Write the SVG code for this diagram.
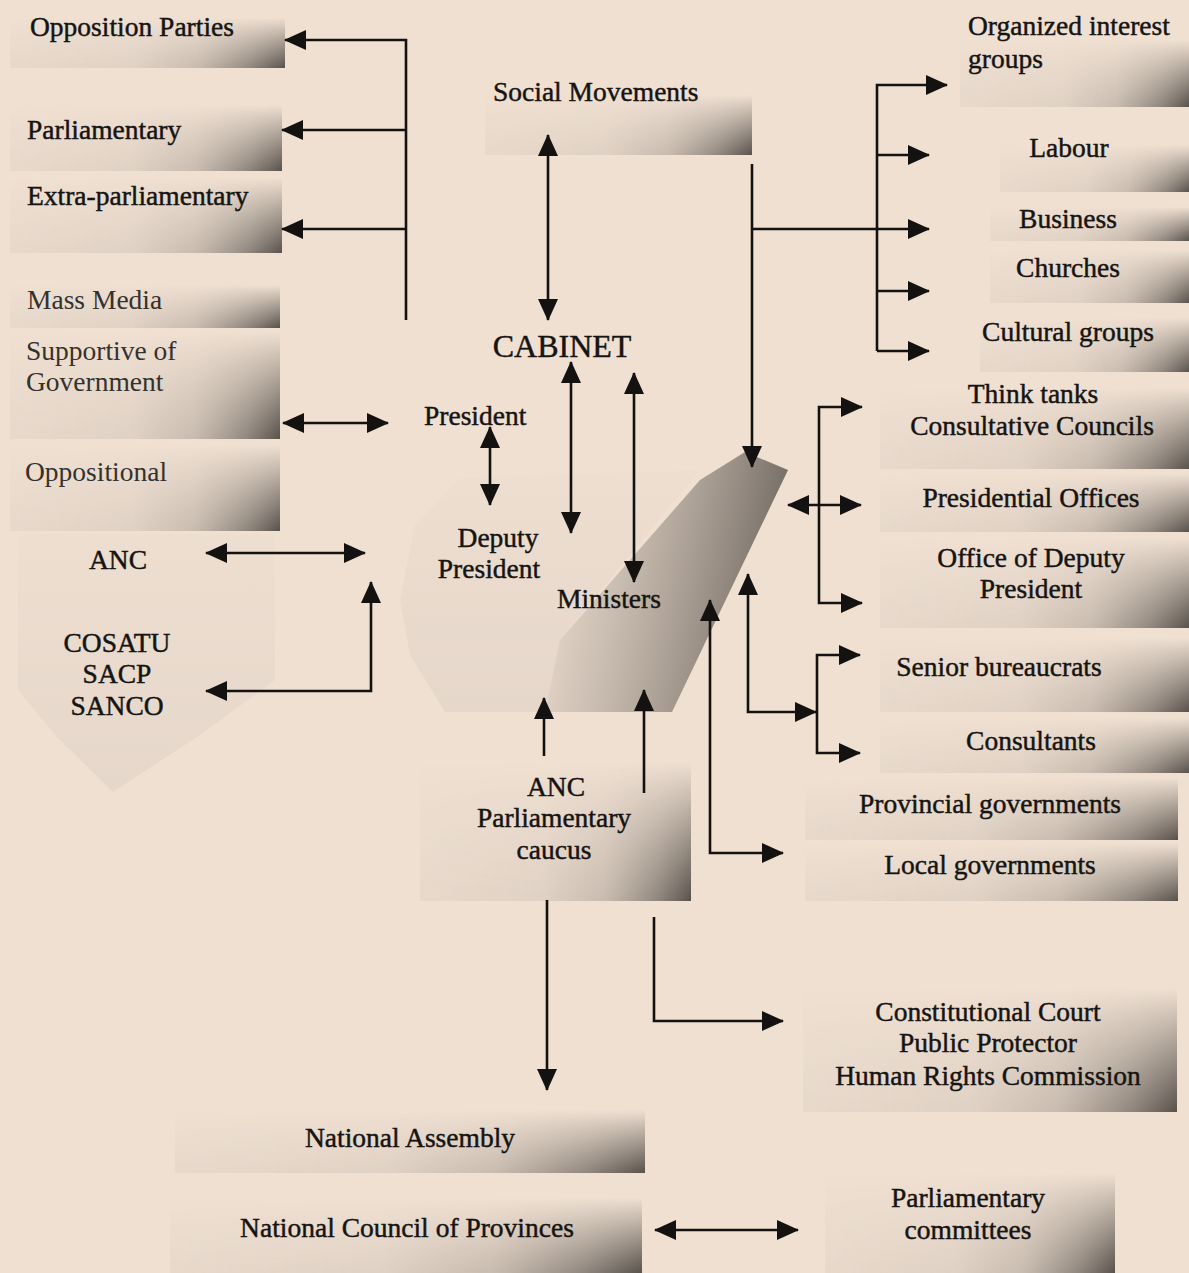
<svg xmlns="http://www.w3.org/2000/svg" width="1189" height="1273" viewBox="0 0 1189 1273">
<style>
.t{font-family:"Liberation Serif","Times New Roman",serif;font-size:27.5px;fill:#161412;stroke:#161412;stroke-width:0.45}
.c{text-anchor:middle}
.lt{fill:#35312d;stroke:none}
.big{font-size:32px}
.sh{fill:url(#hg)}
.ln{fill:none;stroke:#141210;stroke-width:2.6}
.a2{marker-end:url(#ah)}
.a3{marker-start:url(#ah);marker-end:url(#ah)}
</style>
<defs>
<linearGradient id="hg" x1="0" y1="0" x2="1" y2="0">
<stop offset="0" stop-color="#6e665f" stop-opacity="0.06"/>
<stop offset="0.45" stop-color="#6e665f" stop-opacity="0.12"/>
<stop offset="0.68" stop-color="#6e665f" stop-opacity="0.3"/>
<stop offset="0.88" stop-color="#4d4843" stop-opacity="0.6"/>
<stop offset="1" stop-color="#3d3833" stop-opacity="0.85"/>
</linearGradient>
<linearGradient id="vg" x1="0" y1="0" x2="0" y2="1">
<stop offset="0" stop-color="#fff" stop-opacity="0"/>
<stop offset="0.4" stop-color="#fff" stop-opacity="0.4"/>
<stop offset="1" stop-color="#fff" stop-opacity="1"/>
</linearGradient>
<mask id="vm" maskContentUnits="objectBoundingBox"><rect width="1" height="1" fill="url(#vg)"/></mask>
<linearGradient id="faint" x1="0" y1="0" x2="0" y2="1">
<stop offset="0" stop-color="#8c847c" stop-opacity="0.02"/>
<stop offset="1" stop-color="#8c847c" stop-opacity="0.1"/>
</linearGradient>
<mask id="fm" maskContentUnits="objectBoundingBox"><rect width="1" height="1" fill="url(#vg)"/></mask>
<linearGradient id="dark" gradientUnits="userSpaceOnUse" x1="560" y1="600" x2="770" y2="640">
<stop offset="0" stop-color="#6e665f" stop-opacity="0.12"/>
<stop offset="0.5" stop-color="#5a534d" stop-opacity="0.42"/>
<stop offset="1" stop-color="#3d3833" stop-opacity="0.72"/>
</linearGradient>
<marker id="ah" viewBox="0 0 22 20" refX="21" refY="10" markerWidth="22" markerHeight="20" markerUnits="userSpaceOnUse" orient="auto-start-reverse">
<path d="M0,0 L22,10 L0,20 z" fill="#141210"/>
</marker>
</defs>
<rect width="1189" height="1273" fill="#efe0d2"/>

<g id="n-opposition-parties"><rect class="sh" mask="url(#vm)" x="10" y="18" width="275" height="50"/><text class="t" x="30" y="36">Opposition Parties</text></g>
<g id="n-parliamentary"><rect class="sh" mask="url(#vm)" x="10" y="105" width="272" height="66"/><text class="t" x="27" y="139">Parliamentary</text></g>
<g id="n-extra-parliamentary"><rect class="sh" mask="url(#vm)" x="10" y="178" width="272" height="75"/><text class="t" x="27" y="205">Extra-parliamentary</text></g>
<g id="n-mass-media"><rect class="sh" mask="url(#vm)" x="10" y="285" width="270" height="43"/><text class="t lt" x="27" y="309">Mass Media</text></g>
<g id="n-supportive"><rect class="sh" mask="url(#vm)" x="10" y="332" width="270" height="107"/><text class="t lt" x="26" y="360">Supportive of</text><text class="t lt" x="26" y="391">Government</text></g>
<g id="n-oppositional"><rect class="sh" mask="url(#vm)" x="10" y="445" width="270" height="86"/><text class="t lt" x="25" y="481">Oppositional</text></g>
<g id="n-anc-allies"><path d="M18,534 H275 V680 L200,735 L113,792 L55,735 L18,690 z" fill="url(#faint)"/><text class="t c" x="118" y="569">ANC</text><text class="t c" x="117" y="652">COSATU</text><text class="t c" x="117" y="683">SACP</text><text class="t c" x="117" y="715">SANCO</text></g>

<g id="n-social-movements"><rect class="sh" mask="url(#vm)" x="485" y="95" width="267" height="60"/><text class="t" x="493" y="101">Social Movements</text></g>

<g id="n-cabinet">
<path d="M400,600 L415,525 L460,478 L700,470 L560,640 L545,712 L445,712 L410,655 z" fill="url(#faint)"/>
<path d="M745,452 L788,470 L672,712 L545,712 L560,640 L700,480 z" fill="url(#dark)"/>
<text class="t c big" x="562" y="357">CABINET</text>
<text class="t" x="424" y="425">President</text>
<text class="t c" x="498" y="547">Deputy</text><text class="t c" x="489" y="578">President</text>
<text class="t" x="557" y="608">Ministers</text></g>

<g id="n-anc-caucus"><rect class="sh" mask="url(#vm)" x="420" y="762" width="271" height="139"/><text class="t c" x="556" y="796">ANC</text><text class="t c" x="554" y="827">Parliamentary</text><text class="t c" x="554" y="859">caucus</text></g>

<g id="n-organized"><rect class="sh" mask="url(#vm)" x="960" y="40" width="229" height="67"/><text class="t" x="968" y="35">Organized interest</text><text class="t" x="968" y="68">groups</text></g>
<g id="n-labour"><rect class="sh" mask="url(#vm)" x="1000" y="145" width="189" height="47"/><text class="t c" x="1069" y="157">Labour</text></g>
<g id="n-business"><rect class="sh" mask="url(#vm)" x="990" y="207" width="199" height="34"/><text class="t c" x="1068" y="228">Business</text></g>
<g id="n-churches"><rect class="sh" mask="url(#vm)" x="990" y="250" width="199" height="53"/><text class="t c" x="1068" y="277">Churches</text></g>
<g id="n-cultural"><rect class="sh" mask="url(#vm)" x="980" y="318" width="209" height="54"/><text class="t c" x="1068" y="341">Cultural groups</text></g>
<g id="n-think-tanks"><rect class="sh" mask="url(#vm)" x="880" y="388" width="309" height="81"/><text class="t c" x="1033" y="403">Think tanks</text><text class="t c" x="1032" y="435">Consultative Councils</text></g>
<g id="n-presidential-offices"><rect class="sh" mask="url(#vm)" x="880" y="474" width="309" height="58"/><text class="t c" x="1031" y="507">Presidential Offices</text></g>
<g id="n-office-deputy"><rect class="sh" mask="url(#vm)" x="880" y="538" width="309" height="90"/><text class="t c" x="1031" y="567">Office of Deputy</text><text class="t c" x="1031" y="598">President</text></g>
<g id="n-senior-bureaucrats"><rect class="sh" mask="url(#vm)" x="880" y="638" width="309" height="74"/><text class="t c" x="999" y="676">Senior bureaucrats</text></g>
<g id="n-consultants"><rect class="sh" mask="url(#vm)" x="880" y="718" width="309" height="55"/><text class="t c" x="1031" y="750">Consultants</text></g>
<g id="n-provincial"><rect class="sh" mask="url(#vm)" x="805" y="778" width="373" height="62"/><text class="t c" x="990" y="813">Provincial governments</text></g>
<g id="n-local"><rect class="sh" mask="url(#vm)" x="805" y="843" width="373" height="58"/><text class="t c" x="990" y="874">Local governments</text></g>
<g id="n-constitutional"><rect class="sh" mask="url(#vm)" x="803" y="988" width="374" height="124"/><text class="t c" x="988" y="1021">Constitutional Court</text><text class="t c" x="988" y="1052">Public Protector</text><text class="t c" x="988" y="1085">Human Rights Commission</text></g>
<g id="n-national-assembly"><rect class="sh" mask="url(#vm)" x="175" y="1110" width="470" height="63"/><text class="t c" x="410" y="1147">National Assembly</text></g>
<g id="n-ncop"><rect class="sh" mask="url(#vm)" x="170" y="1198" width="472" height="75"/><text class="t c" x="407" y="1237">National Council of Provinces</text></g>
<g id="n-parl-committees"><rect class="sh" mask="url(#vm)" x="825" y="1173" width="290" height="100"/><text class="t c" x="968" y="1207">Parliamentary</text><text class="t c" x="968" y="1239">committees</text></g>

<g id="connectors">
<path class="ln a2" d="M406,320 V40 H285"/>
<path class="ln a2" d="M406,130 H282"/>
<path class="ln a2" d="M406,229 H282"/>
<path class="ln a3" d="M283,423 H388"/>
<path class="ln a3" d="M206,553 H365"/>
<path class="ln a3" d="M206,691 H371 V582"/>
<path class="ln a3" d="M548,135 V320"/>
<path class="ln a3" d="M490,427 V505"/>
<path class="ln a3" d="M571,362 V533"/>
<path class="ln a3" d="M634,373 V582"/>
<path class="ln a2" d="M752,164 V467"/>
<path class="ln a2" d="M752,229 H929"/>
<path class="ln a2" d="M877,351 V85 H947"/>
<path class="ln a2" d="M877,155 H929"/>
<path class="ln a2" d="M877,291 H929"/>
<path class="ln a2" d="M877,351 H929"/>
<path class="ln a3" d="M788,505 H861"/>
<path class="ln a2" d="M819,505 V407 H862"/>
<path class="ln a2" d="M819,505 V603 H862"/>
<path class="ln a3" d="M748,574 V712 H816"/>
<path class="ln a2" d="M817,712 V655 H860"/>
<path class="ln a2" d="M817,712 V753 H860"/>
<path class="ln a3" d="M710,600 V853 H783"/>
<path class="ln a2" d="M544,756 V698"/>
<path class="ln a2" d="M644,793 V690"/>
<path class="ln a2" d="M547,900 V1090"/>
<path class="ln a2" d="M654,917 V1021 H783"/>
<path class="ln a3" d="M655,1230 H798"/>
</g>
</svg>
